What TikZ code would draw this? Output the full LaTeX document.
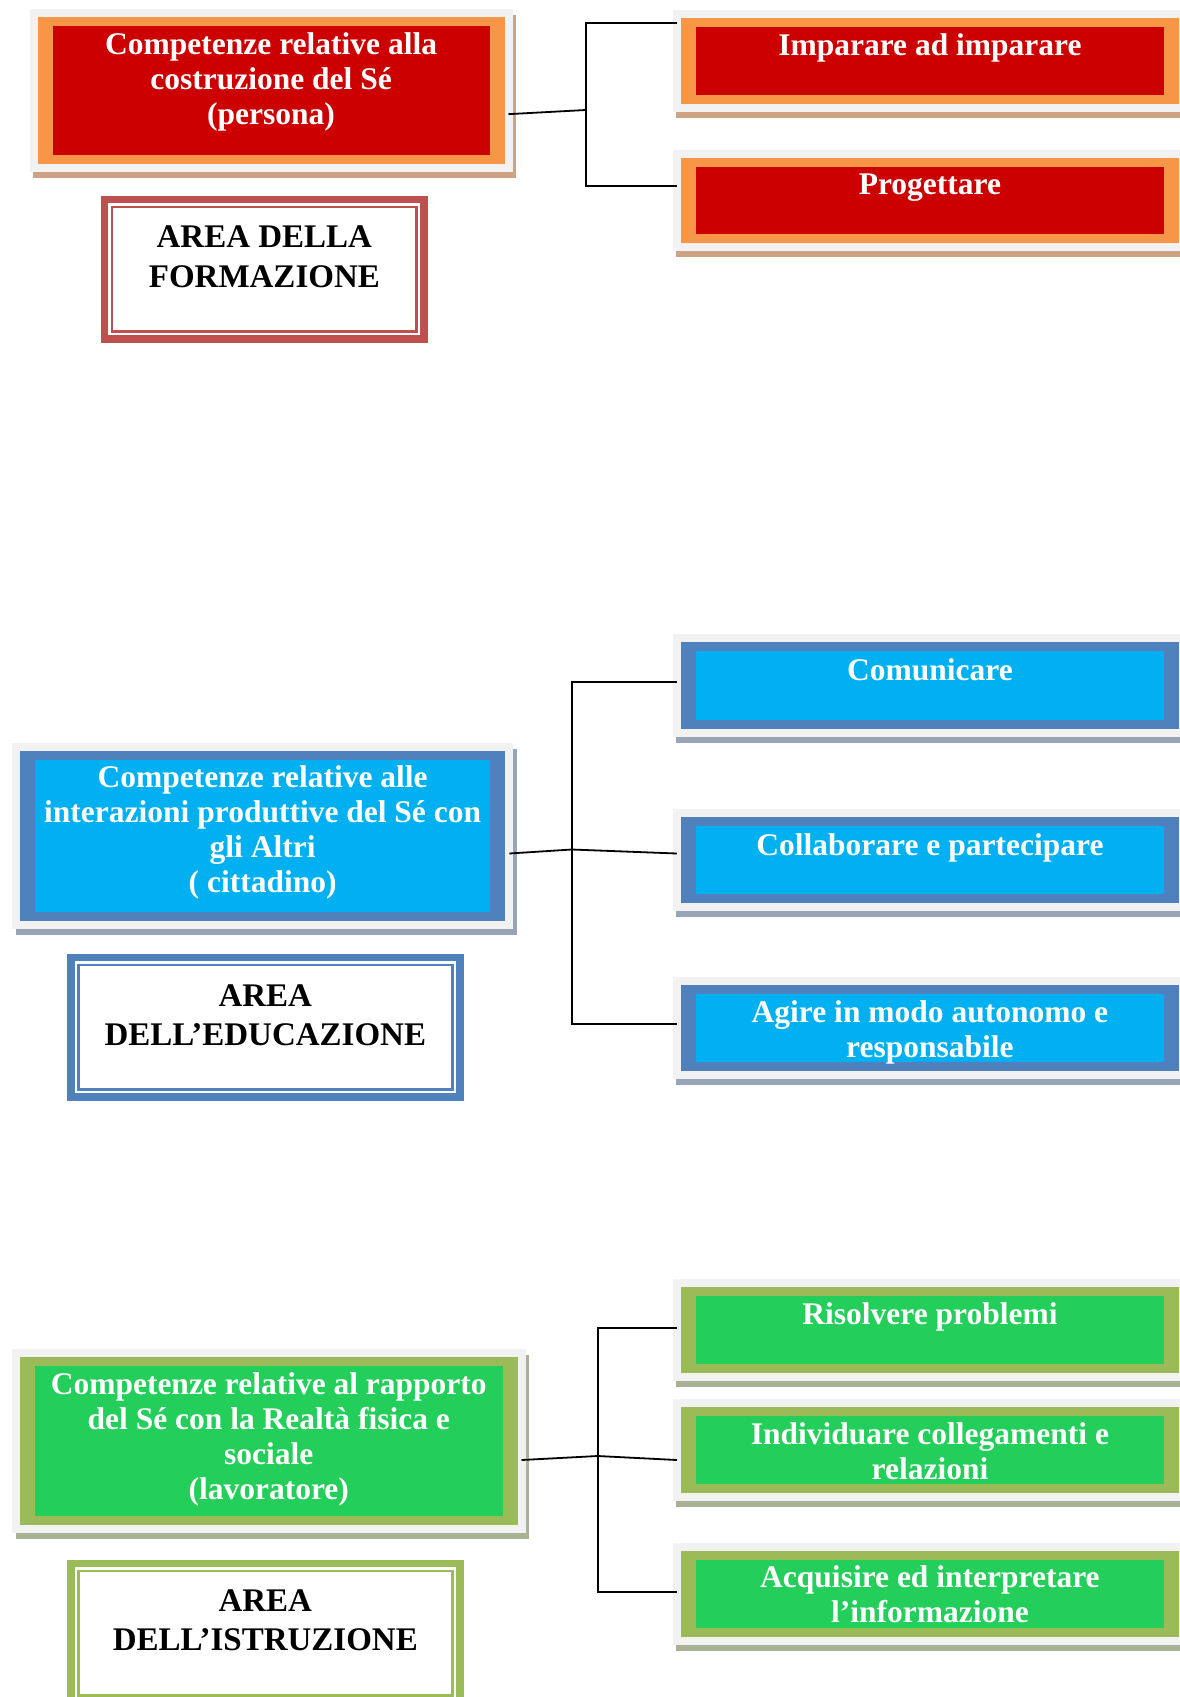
\documentclass[tikz,border=0pt]{standalone}
\usepackage{fontspec}
\setmainfont{Liberation Serif}
\usetikzlibrary{shadows}
\definecolor{framegray}{HTML}{F2F2F2}
\definecolor{bandorange}{HTML}{F79646}
\definecolor{fillred}{HTML}{CC0000}
\definecolor{shadetan}{HTML}{CDA383}
\definecolor{bandblue}{HTML}{4F81BD}
\definecolor{fillcyan}{HTML}{00B0F0}
\definecolor{shadeblue}{HTML}{97A5B7}
\definecolor{bandgreen}{HTML}{9BBB59}
\definecolor{fillgreen}{HTML}{23CE5A}
\definecolor{shadegreen}{HTML}{A9B296}
\definecolor{areared}{HTML}{C0504D}
\tikzset{
  tile/.style n args={3}{
    drop shadow={opacity=1,fill=#3,draw=#3,line width=16pt,shadow xshift=3.5pt,shadow yshift=-6pt},
    preaction={draw=framegray,line width=16pt},
    fill=#1,
    path picture={\fill[#2] ([shift={(15pt,-9pt)}]path picture bounding box.north west) rectangle ([shift={(-15pt,9pt)}]path picture bounding box.south east);},
    anchor=north west,inner sep=0pt,outer sep=4pt,align=flush center,text=white,
    font=\fontsize{31.5}{35}\selectfont\bfseries},
  areabox/.style={
    preaction={draw=#1,line width=22.5pt},
    preaction={draw=white,line width=7.5pt},
    fill=white,draw=#1,line width=2.5pt,
    anchor=north west,inner sep=0pt,align=flush center,text=black,
    font=\fontsize{33}{39.5}\selectfont\bfseries},
  link/.style={draw=black,line width=1.8pt}
}
\begin{document}
\begin{tikzpicture}[x=1pt,y=-1pt]
\useasboundingbox (0,0) rectangle (1179,1697);
% area della formazione
\node[tile={bandorange}{fillred}{shadetan},text width=466.8pt,text height=36.7pt,text depth=110pt] (fo) at (33.7,13.3) {Competenze relative alla\\costruzione del Sé\\(persona)};
\node[areabox=areared,text width=304.7pt,text height=41.15pt,text depth=83.75pt] (areaF) at (110.75,205.55) {AREA DELLA\\FORMAZIONE};
\node[tile={bandorange}{fillred}{shadetan},text width=498.1pt,text height=37.7pt,text depth=48.3pt] (imp) at (676.9,14) {Imparare ad imparare};
\node[tile={bandorange}{fillred}{shadetan},text width=498.1pt,text height=36pt,text depth=49.3pt] (prog) at (676.9,154) {Progettare};
\coordinate (busA) at (585.7,110);
\draw[link] ([yshift=-23.5pt]fo.east) -- (busA);
\draw[link] ([yshift=37.7pt]imp.west) -| (busA) |- ([yshift=15pt]prog.west);
% area dell'educazione
\node[tile={bandblue}{fillcyan}{shadeblue},text width=485.3pt,text height=36.6pt,text depth=133.4pt] (cit) at (16,746.7) {Competenze relative alle\\interazioni produttive del Sé con\\gli Altri\\( cittadino)};
\node[areabox=bandblue,text width=374pt,text height=41.45pt,text depth=83.45pt] (areaE) at (77.05,963.55) {AREA\\DELL’EDUCAZIONE};
\node[tile={bandblue}{fillcyan}{shadeblue},text width=498.1pt,text height=38.4pt,text depth=48.3pt] (comu) at (676.9,638.3) {Comunicare};
\node[tile={bandblue}{fillcyan}{shadeblue},text width=498.1pt,text height=39pt,text depth=47pt] (collab) at (676.9,812.7) {Collaborare e partecipare};
\node[tile={bandblue}{fillcyan}{shadeblue},text width=498.1pt,text height=37.6pt,text depth=48.4pt] (agire) at (676.9,980.7) {Agire in modo autonomo e\\responsabile};
\coordinate (busB) at (571.8,849.5);
\draw[link] ([yshift=-17.8pt]cit.east) -- (busB) -- ([yshift=6.2pt]collab.west);
\draw[link] ([yshift=3.4pt]comu.west) -| (busB) |- ([yshift=3.7pt]agire.west);
% area dell'istruzione
\node[tile={bandgreen}{fillgreen}{shadegreen},text width=497.5pt,text height=37.3pt,text depth=130.7pt] (lav) at (16,1352.7) {Competenze relative al rapporto\\del Sé con la Realtà fisica e\\sociale\\(lavoratore)};
\node[areabox=bandgreen,text width=374pt,text height=40.45pt,text depth=84.45pt] (areaI) at (77.05,1569.55) {AREA\\DELL’ISTRUZIONE};
\node[tile={bandgreen}{fillgreen}{shadegreen},text width=498.1pt,text height=37pt,text depth=48.7pt] (risol) at (676.9,1283) {Risolvere problemi};
\node[tile={bandgreen}{fillgreen}{shadegreen},text width=498.1pt,text height=36.7pt,text depth=49.3pt] (indiv) at (676.9,1403.3) {Individuare collegamenti e\\relazioni};
\node[tile={bandgreen}{fillgreen}{shadegreen},text width=498.1pt,text height=36pt,text depth=49.4pt] (acqu) at (676.9,1547.3) {Acquisire ed interpretare\\l’informazione};
\coordinate (busC) at (597.7,1456);
\draw[link] ([yshift=-19.3pt]lav.east) -- (busC) -- ([yshift=-9.7pt]indiv.west);
\draw[link] ([yshift=1.5pt]risol.west) -| (busC) |- ([yshift=1.7pt]acqu.west);
\end{tikzpicture}
\end{document}
